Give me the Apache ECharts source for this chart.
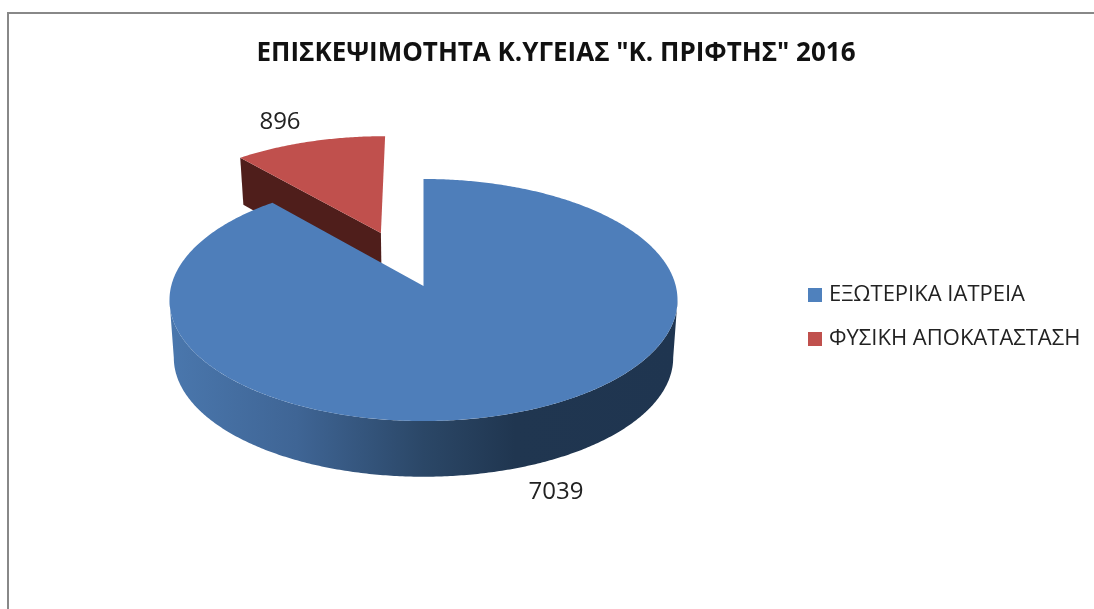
<!DOCTYPE html>
<html><head><meta charset="utf-8">
<style>html,body{margin:0;padding:0;background:#fff}#c{width:1094px;height:609px}</style>
<script src="https://cdn.jsdelivr.net/npm/echarts@6/dist/echarts.min.js"></script>
</head><body><div id="c"></div>
<script>
var chartTitle = 'ΕΠΙΣΚΕΨΙΜΟΤΗΤΑ Κ.ΥΓΕΙΑΣ "Κ. ΠΡΙΦΤΗΣ" 2016';
var categories = ['ΕΞΩΤΕΡΙΚΑ ΙΑΤΡΕΙΑ', 'ΦΥΣΙΚΗ ΑΠΟΚΑΤΑΣΤΑΣΗ'];
var visits = [7039, 896];

var total = visits[0] + visits[1];
var FONT = '"Open Sans","Noto Sans",sans-serif';
var CX = 423.5, CY = 286, A = 252.3, B = 119.4, P = 0.1157, LOWER_Y = 58, LOWER_K = 0.983;
var EXPLODE = {u: -0.178, v: -0.468};

function proj(u, v) {
  var w = 1 - P * v;
  return [CX + A * u / w, CY + B * v / w];
}
function arcPoints(a0, a1, ou, ov) {
  var pts = [], n = Math.max(8, Math.round(Math.abs(a1 - a0) / 0.01));
  for (var i = 0; i <= n; i++) {
    var a = a0 + (a1 - a0) * i / n;
    pts.push(proj(ou + Math.sin(a), ov - Math.cos(a)));
  }
  return pts;
}
function renderBlue(params, api) {
  var end = api.value(0) / total * 2 * Math.PI;
  var face = [proj(0, 0)].concat(arcPoints(0, end, 0, 0));
  // front wall: from the right tangent, round the front, to the left tangent
  var t = Math.asin(P);
  var front = arcPoints(Math.PI / 2 + t, 3 * Math.PI / 2 - t, 0, 0);
  var wall = front.concat(front.map(function (p) {
    return [CX + (p[0] - CX) * LOWER_K, CY + (p[1] - CY) * LOWER_K + LOWER_Y];
  }).reverse());
  return {type: 'group', children: [
    {type: 'polygon', shape: {points: wall}, style: {
      fill: {type: 'linear', x: 0, y: 0, x2: 1, y2: 0, colorStops: [
        {offset: 0, color: '#4a77ad'}, {offset: 0.25, color: '#3f6595'},
        {offset: 0.5, color: '#2b4767'}, {offset: 0.68, color: '#203650'},
        {offset: 1, color: '#1f3550'}]}}},
    {type: 'polygon', shape: {points: face}, style: {fill: '#4e7eba'}},
    {type: 'text', style: {x: 556, y: 492, text: String(api.value(0)), fill: '#222',
      font: '24px ' + FONT, textAlign: 'center', textVerticalAlign: 'middle'}}
  ]};
}
function renderRed(params, api) {
  var span = api.value(0) / total * 2 * Math.PI;
  var a0 = 2 * Math.PI - span, a1 = 2 * Math.PI;
  var tip = proj(EXPLODE.u, EXPLODE.v);
  var face = [tip].concat(arcPoints(a0, a1, EXPLODE.u, EXPLODE.v));
  var corner = face[1];
  var drop = function (p, d) { return [CX + (p[0] - CX) * LOWER_K, p[1] + d]; };
  var wall = [corner, tip, drop(tip, 50), drop(corner, 47)];
  return {type: 'group', children: [
    {type: 'polygon', shape: {points: wall}, style: {fill: '#4f1e1b'}},
    {type: 'polygon', shape: {points: face}, style: {fill: '#c0504d'}},
    {type: 'text', style: {x: 280, y: 122, text: String(api.value(0)), fill: '#222',
      font: '24px ' + FONT, textAlign: 'center', textVerticalAlign: 'middle'}}
  ]};
}
var chart = echarts.init(document.getElementById('c'), null, {renderer: 'canvas'});
chart.setOption({
  animation: false,
  backgroundColor: '#fff',
  title: {text: chartTitle, left: 557, top: 36, textAlign: 'center',
    textStyle: {fontFamily: FONT, fontWeight: 'bold', fontSize: 26, color: '#111'}},
  legend: {orient: 'vertical', left: 803, top: 279, itemWidth: 14, itemHeight: 14, itemGap: 22,
    icon: 'rect', selectedMode: false, data: categories,
    textStyle: {fontFamily: FONT, fontSize: 22, color: '#222', padding: [0, 0, 0, 2]}},
  graphic: [{type: 'polyline', silent: true, shape: {points: [[8, 609], [8, 13], [1094, 13]]},
    style: {stroke: '#888', lineWidth: 2, fill: null}}],
  series: [
    {type: 'custom', name: categories[1], coordinateSystem: 'none', z: 2,
      itemStyle: {color: '#c0504d'}, data: [[visits[1]]], renderItem: renderRed},
    {type: 'custom', name: categories[0], coordinateSystem: 'none', z: 3,
      itemStyle: {color: '#4f81bd'}, data: [[visits[0]]], renderItem: renderBlue}
  ]
});
chart.setOption({title: {left: 551}});
</script></body></html>
